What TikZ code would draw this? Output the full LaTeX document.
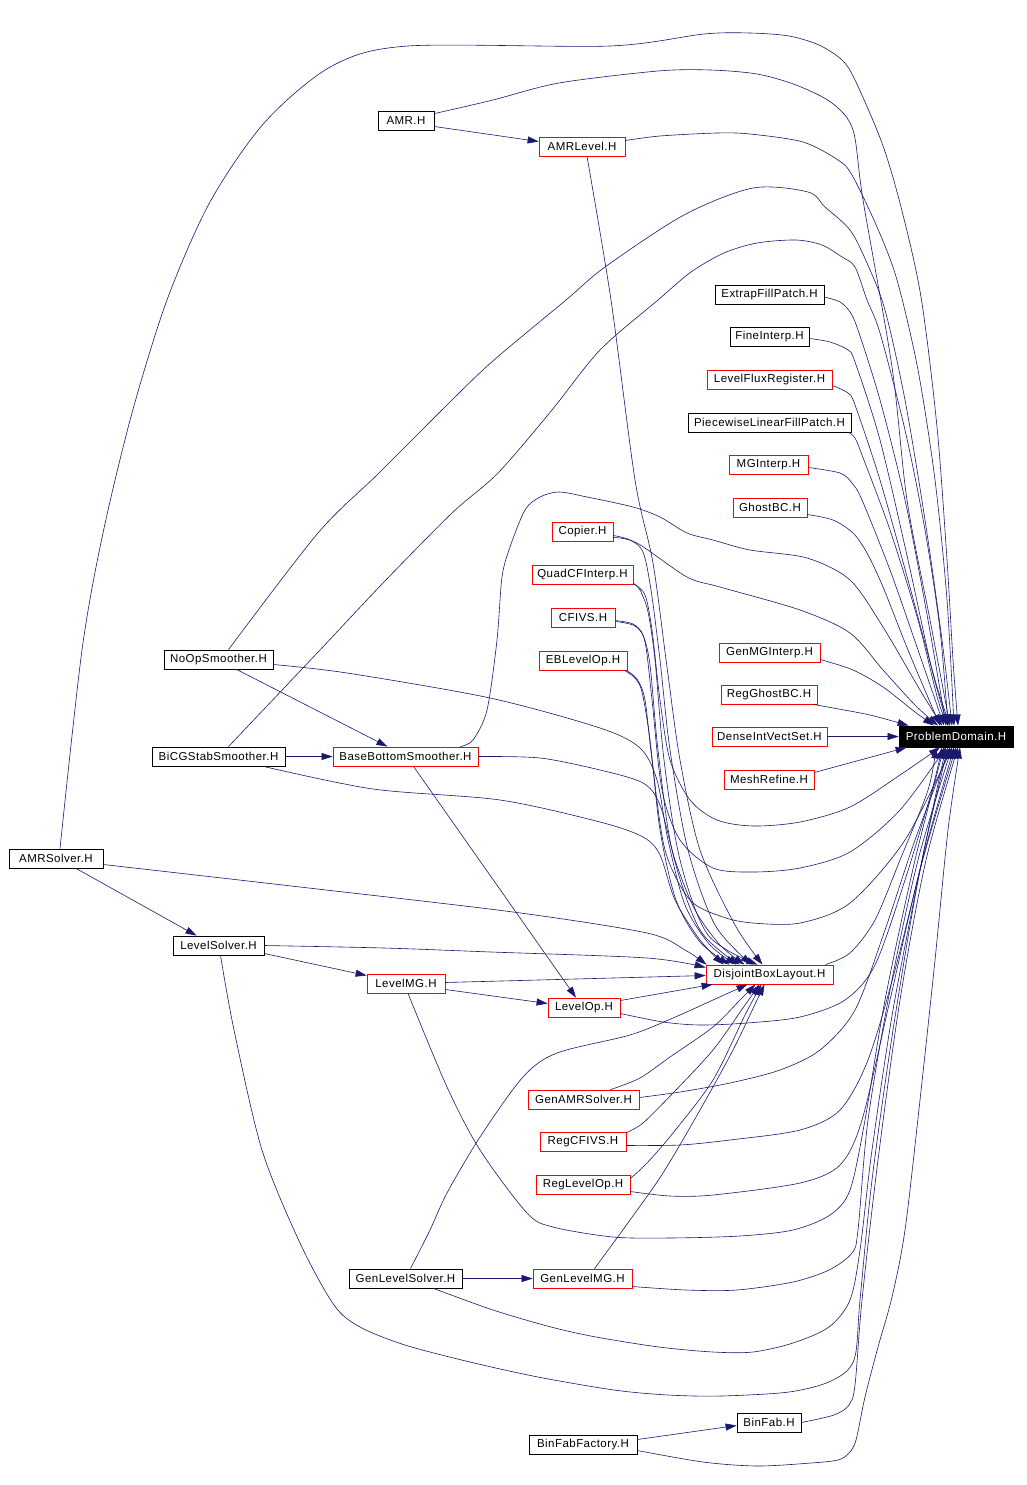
\documentclass[tikz,border=0pt]{standalone}
\usepackage{fontspec}
\newfontfamily\dfont[LetterSpace=4]{Liberation Sans}
\usetikzlibrary{arrows.meta}
\definecolor{edgecol}{HTML}{191970}
\begin{document}
\begin{tikzpicture}[x=1pt,y=-1pt,
  box/.style={draw, line width=0.8pt, minimum height=19pt, inner sep=0pt, font=\dfont\fontsize{11.5}{13}\selectfont},
  rbox/.style={box, draw=red},
  kbox/.style={box, draw=black},
  edge/.style={draw=edgecol, line width=0.6pt, -{Triangle[length=11pt,width=7pt]}},
  sm/.style={smooth, tension=0.5}]
\fill[white] (0,0) rectangle (1026,1485);
\useasboundingbox (0,0) rectangle (1026,1485);
% nodes
\node[box, fill=black, text=white, minimum width=114pt, minimum height=21pt] (pd) at (956,736.5) {ProblemDomain.H};
\node[kbox, minimum width=56pt] (amr) at (406,120.5) {AMR.H};
\node[rbox, minimum width=86pt] (amrlevel) at (582,146.5) {AMRLevel.H};
\node[kbox, minimum width=109pt] (extrap) at (769.5,295) {ExtrapFillPatch.H};
\node[kbox, minimum width=79pt] (fineinterp) at (769.5,336.5) {FineInterp.H};
\node[rbox, minimum width=125pt] (levelflux) at (769.5,379.5) {LevelFluxRegister.H};
\node[kbox, minimum width=163pt] (piecewise) at (769.5,422.5) {PiecewiseLinearFillPatch.H};
\node[rbox, minimum width=79pt] (mginterp) at (768.5,464.5) {MGInterp.H};
\node[rbox, minimum width=74pt] (ghostbc) at (770,507.5) {GhostBC.H};
\node[rbox, minimum width=61pt] (copier) at (582.5,531.5) {Copier.H};
\node[rbox, minimum width=101pt] (quadcf) at (582.5,574.5) {QuadCFInterp.H};
\node[rbox, minimum width=64pt] (cfivs) at (583,617.5) {CFIVS.H};
\node[rbox, minimum width=88pt] (eblevelop) at (583,660.5) {EBLevelOp.H};
\node[rbox, minimum width=101pt] (genmginterp) at (769.5,652.5) {GenMGInterp.H};
\node[rbox, minimum width=96pt] (regghostbc) at (769,694.5) {RegGhostBC.H};
\node[rbox, minimum width=115pt] (denseint) at (769.5,736.5) {DenseIntVectSet.H};
\node[rbox, minimum width=90pt] (meshrefine) at (769,779.5) {MeshRefine.H};
\node[kbox, minimum width=109pt] (noop) at (218.5,659.5) {NoOpSmoother.H};
\node[kbox, minimum width=133pt] (bicg) at (218.5,756.5) {BiCGStabSmoother.H};
\node[rbox, minimum width=145pt] (bbs) at (405.5,756.5) {BaseBottomSmoother.H};
\node[kbox, minimum width=94pt] (amrsolver) at (56,858.5) {AMRSolver.H};
\node[kbox, minimum width=91pt] (levelsolver) at (218.5,945.5) {LevelSolver.H};
\node[rbox, minimum width=78pt] (levelmg) at (406,983.5) {LevelMG.H};
\node[rbox, minimum width=72pt] (levelop) at (584,1007.5) {LevelOp.H};
\node[rbox, minimum width=127pt] (dbl) at (769.5,974.5) {DisjointBoxLayout.H};
\node[rbox, minimum width=111pt] (genamrsolver) at (583.5,1099.5) {GenAMRSolver.H};
\node[rbox, minimum width=86pt] (regcfivs) at (583,1141.5) {RegCFIVS.H};
\node[rbox, minimum width=94pt] (reglevelop) at (583,1184.5) {RegLevelOp.H};
\node[kbox, minimum width=113pt] (genlevelsolver) at (405.5,1278.5) {GenLevelSolver.H};
\node[rbox, minimum width=99pt] (genlevelmg) at (582.5,1278.5) {GenLevelMG.H};
\node[kbox, minimum width=64pt] (binfab) at (769,1422.5) {BinFab.H};
\node[kbox, minimum width=108pt] (binfabfactory) at (583,1444.5) {BinFabFactory.H};

% edges into ProblemDomain from above
\draw[edge] plot[sm] coordinates {([xshift=4]amrsolver.north) (82,650) (103,533) (132,413) (167,300) (210,202) (265,122) (332,66) (408,46) (610,46) (704,34) (750,33) (789,36) (819,45) (842,60) (855,80) (882,143) (901,207) (921,297) (937,427) (947,560) (953,660) ([xshift=2]pd.north)};
\draw[edge] plot[sm] coordinates {([yshift=-3]amr.north east) (493,100) (559,83) (658,71) (710,70) (757,74) (796,85) (832,103) (853,130) (863,200) (892,367) (907,500) (930,620) ([xshift=-6]pd.north)};
\draw[edge] ([yshift=-6]amr.east) -- ([yshift=5]amrlevel.west);
\draw[edge] plot[sm] coordinates {([yshift=6]amrlevel.east) (660,136) (717,133) (750,134) (803,142) (838,160) (852,175) (877,227) (897,280) (918,370) (935,480) (947,600) ([xshift=-2]pd.north)};
\draw[edge] plot[sm] coordinates {([xshift=5]amrlevel.south) (611,300) (635,480) (653,563) (667,667) (680,760) (700,850) (735,925) ([xshift=-7]dbl.north)};
\draw[edge] plot[sm] coordinates {([xshift=10]noop.north) (318,533) (379,473) (452,400) (494,360) (566,300) (605,267) (684,215) (753,188) (808,192) (825,207) (850,230) (867,263) (885,310) (905,400) (925,520) (942,640) ([xshift=-4]pd.north)};
\draw[edge] plot[sm] coordinates {([xshift=10]bicg.north) (320,650) (383,583) (452,513) (498,473) (552,410) (600,350) (658,300) (691,272) (724,253) (757,243) (796,240) (822,245) (842,257) (855,267) (867,300) (880,333) (905,430) (925,530) (940,630) ([xshift=-8]pd.north)};
\draw[edge] (bicg.east) -- (bbs.west);
\draw[edge] ([xshift=18]noop.south) -- ([xshift=-18]bbs.north);
\draw[edge] plot[sm] coordinates {([xshift=55]bbs.north) (473,740) (487,710) (497,640) (502,577) (510,547) (525,510) (540,497) (559,492) (587,497) (633,507) (660,517) (687,533) (713,540) (750,550) (807,558) (850,580) (883,627) (920,690) ([xshift=-14]pd.north)};
\draw[edge] ([xshift=8]bbs.south) -- ([xshift=-8]levelop.north);
\draw[edge] plot[sm] coordinates {(bbs.east) (540,758) (600,770) (643,783) (660,805) (675,860) (695,910) (720,945) ([xshift=-25]dbl.north)};
\draw[edge] plot[sm] coordinates {([yshift=-5]noop.east) (347,673) (490,698) (600,728) (640,748) (657,780) (668,840) (685,905) (710,945) ([xshift=-33]dbl.north)};
\draw[edge] plot[sm] coordinates {([xshift=45]bicg.south) (373,789) (500,800) (600,822) (643,837) (660,855) (675,900) (700,940) ([xshift=-46]dbl.north)};
\draw[edge] plot[sm] coordinates {([yshift=-4]copier.east) (630,540) (643,552) (651,590) (660,660) (670,750) (688,850) (715,925) ([xshift=-18]dbl.north)};
\draw[edge] plot[sm] coordinates {([yshift=-6]copier.east) (637,543) (687,577) (720,587) (800,610) (850,633) (883,670) (915,705) ([xshift=-18]pd.north)};
\draw[edge] plot[sm] coordinates {([yshift=-9]quadcf.east) (640,590) (648,612) (655,660) (664,760) (680,860) (708,935) ([xshift=-12]dbl.north)};
\draw[edge] plot[sm] coordinates {([yshift=-9]quadcf.east) (645,595) (652,630) (660,700) (670,760) (690,800) (717,820) (753,826) (800,822) (850,807) (900,775) ([xshift=-16]pd.south)};
\draw[edge] plot[sm] coordinates {([yshift=-3]cfivs.east) (633,624) (643,635) (650,665) (658,750) (672,850) (700,930) ([xshift=-30]dbl.north)};
\draw[edge] plot[sm] coordinates {([yshift=-4]cfivs.east) (635,626) (645,642) (652,700) (662,790) (680,840) (713,868) (753,872) (800,868) (850,852) (900,810) ([xshift=-10]pd.south)};
\draw[edge] plot[sm] coordinates {([xshift=-3]eblevelop.south east) (635,678) (642,692) (650,740) (660,830) (676,900) (700,942) ([xshift=-40]dbl.north)};
\draw[edge] plot[sm] coordinates {([xshift=-1]eblevelop.south east) (637,679) (645,700) (652,760) (665,850) (690,900) (723,917) (753,923) (800,923) (850,903) (905,840) ([xshift=-4]pd.south)};
\draw[edge] plot[sm] coordinates {([xshift=-8]dbl.north east) (850,953) (875,920) (900,860) (928,790) ([xshift=-20]pd.south)};
% left side
\draw[edge] ([xshift=20]amrsolver.south) -- ([xshift=-22]levelsolver.north);
\draw[edge] plot[sm] coordinates {([yshift=-6]amrsolver.east) (300,887) (513,912) (647,933) (685,950) ([xshift=1]dbl.north west)};
\draw[edge] plot[sm] coordinates {(levelsolver.east) (384,948) (491,952) (647,958) ([yshift=7]dbl.west)};
\draw[edge] ([yshift=-8]levelsolver.east) -- ([yshift=8]levelmg.west);
\draw[edge] plot[sm] coordinates {([xshift=2]levelsolver.south) (234,1030) (262,1150) (300,1243) (334,1305) (360,1327) (405,1345) (470,1362) (538,1377) (614,1390) (668,1395) (721,1396) (789,1392) (831,1381) (854,1360) (860,1300) (872,1180) (893,1030) (920,870) ([xshift=-8]pd.south)};
\draw[edge] ([yshift=1]levelmg.east) -- ([yshift=-1]dbl.west);
\draw[edge] ([yshift=-6]levelmg.east) -- ([yshift=4]levelop.west);
\draw[edge] plot[sm] coordinates {([xshift=2]levelmg.south) (447,1087) (480,1150) (527,1213) (553,1227) (613,1237) (670,1238) (740,1236) (793,1230) (830,1215) (850,1190) (865,1120) (885,1000) (915,860) ([xshift=-12]pd.south)};
\draw[edge] ([yshift=7]levelop.east) -- ([xshift=7]dbl.south west);
\draw[edge] plot[sm] coordinates {([yshift=-6]levelop.east) (663,1022) (700,1025) (747,1023) (800,1017) (845,1000) (875,965) (905,880) (932,790) ([xshift=-14]pd.south)};
% lower group
\draw[edge] plot[sm] coordinates {([xshift=27]genamrsolver.north) (640,1078) (670,1057) (713,1027) (740,1000) ([xshift=-14]dbl.south)};
\draw[edge] plot[sm] coordinates {([yshift=2]genamrsolver.east) (680,1092) (730,1083) (780,1070) (820,1050) (855,1010) (885,930) (915,840) ([xshift=-6]pd.south)};
\draw[edge] plot[sm] coordinates {([yshift=-1]regcfivs.north east) (643,1123) (673,1093) (713,1050) (745,1005) ([xshift=-10]dbl.south)};
\draw[edge] plot[sm] coordinates {([yshift=-4]regcfivs.east) (680,1145) (730,1140) (800,1130) (840,1110) (868,1060) (895,970) (925,850) ([xshift=-2]pd.south)};
\draw[edge] plot[sm] coordinates {([yshift=6]reglevelop.east) (647,1163) (673,1133) (713,1080) (745,1015) ([xshift=-8]dbl.south)};
\draw[edge] plot[sm] coordinates {([yshift=-7]reglevelop.east) (670,1196) (713,1195) (800,1183) (840,1165) (862,1120) (890,1000) (920,870) (pd.south)};
\draw[edge] plot[sm] coordinates {([xshift=5]genlevelsolver.north) (430,1230) (447,1193) (480,1137) (523,1077) (557,1053) (630,1035) (673,1018) (713,1000) ([xshift=-22]dbl.south)};
\draw[edge] (genlevelsolver.east) -- (genlevelmg.west);
\draw[edge] plot[sm] coordinates {([xshift=28]genlevelsolver.south) (493,1310) (551,1327) (596,1337) (659,1347) (713,1352) (753,1352) (793,1343) (829,1327) (850,1300) (860,1250) (872,1150) (893,1010) (922,860) ([xshift=-10]pd.south)};
\draw[edge] plot[sm] coordinates {([xshift=12]genlevelmg.north) (603,1257) (630,1220) (663,1173) (700,1110) (733,1050) (757,1000) ([xshift=-5]dbl.south)};
\draw[edge] plot[sm] coordinates {([yshift=-8]genlevelmg.east) (686,1290) (737,1290) (793,1282) (829,1270) (852,1253) (858,1230) (868,1120) (890,990) (918,860) ([xshift=-4]pd.south)};
\draw[edge] plot[sm] coordinates {(binfab.east) (834,1415) (849,1405) (855,1385) (862,1300) (878,1160) (900,1000) (926,860) ([xshift=2]pd.south)};
\draw[edge] ([yshift=5]binfabfactory.east) -- ([yshift=-3]binfab.west);
\draw[edge] plot[sm] coordinates {([yshift=-6]binfabfactory.east) (703,1462) (757,1466) (811,1463) (838,1460) (849,1453) (856,1440) (865,1397) (878,1347) (892,1297) (905,1230) (920,1100) (935,960) (948,830) ([xshift=4]pd.south)};
% right column
\draw[edge] plot[sm] coordinates {([yshift=-2]extrap.east) (840,302) (850,312) (858,330) (880,400) (905,500) (928,620) ([xshift=-10]pd.north)};
\draw[edge] plot[sm] coordinates {([yshift=-2]fineinterp.east) (830,342) (848,350) (855,362) (880,440) (908,560) (932,670) ([xshift=-8]pd.north)};
\draw[edge] plot[sm] coordinates {([yshift=-6]levelflux.east) (848,393) (855,405) (880,480) (908,580) (935,680) ([xshift=-6]pd.north)};
\draw[edge] plot[sm] coordinates {([xshift=-3]piecewise.south east) (855,438) (862,455) (890,530) (918,620) (938,700) ([xshift=-8]pd.north)};
\draw[edge] plot[sm] coordinates {([yshift=-3]mginterp.east) (840,473) (852,483) (862,500) (890,570) (918,650) ([xshift=-12]pd.north)};
\draw[edge] plot[sm] coordinates {([yshift=-7]ghostbc.east) (833,520) (853,533) (867,553) (883,587) (908,650) ([xshift=-16]pd.north)};
\draw[edge] plot[sm] coordinates {([yshift=-7]genmginterp.east) (853,670) (883,687) (915,712) ([xshift=-22]pd.north)};
\draw[edge] plot[sm] coordinates {([xshift=-4]regghostbc.south east) (833,708) (870,715) ([xshift=10]pd.north west)};
\draw[edge] (denseint.east) -- (pd.west);
\draw[edge] ([yshift=7]meshrefine.east) -- ([xshift=8]pd.south west);
\end{tikzpicture}
\end{document}
